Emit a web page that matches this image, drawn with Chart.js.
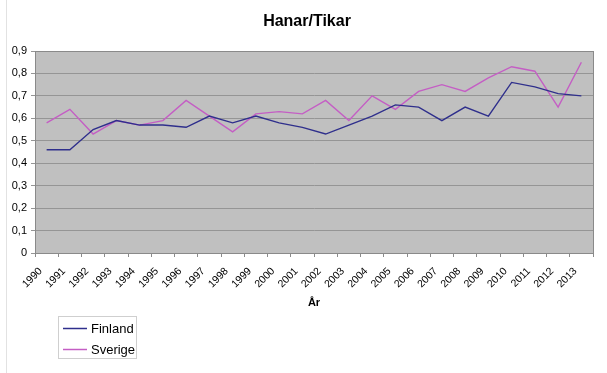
<!DOCTYPE html>
<html>
<head>
<meta charset="utf-8">
<script src="https://cdn.jsdelivr.net/npm/chart.js@4/dist/chart.umd.min.js"></script>
<style>
  html, body { margin: 0; padding: 0; background: #fff; }
  #wrap { position: relative; width: 607px; height: 373px; }
</style>
</head>
<body>
<div id="wrap"><canvas id="c" width="607" height="373"></canvas></div>
<script>
const years = ['1990','1991','1992','1993','1994','1995','1996','1997','1998','1999','2000','2001','2002','2003','2004','2005','2006','2007','2008','2009','2010','2011','2012','2013'];
const finland = [0.46,0.46,0.55,0.59,0.57,0.57,0.56,0.61,0.58,0.61,0.58,0.56,0.53,0.57,0.61,0.66,0.65,0.59,0.65,0.61,0.76,0.74,0.71,0.70];
const sverige = [0.58,0.64,0.53,0.59,0.57,0.59,0.68,0.61,0.54,0.62,0.63,0.62,0.68,0.59,0.70,0.64,0.72,0.75,0.72,0.78,0.83,0.81,0.65,0.85];
const seriesNames = ['Finland','Sverige'];
const seriesColors = ['#2f2f8c','#c45ec4'];
const chartTitle = 'Hanar/Tikar';
const xTitle = 'År';

const FONT = "'Liberation Sans', Arial, sans-serif";

const decor = {
  id: 'decor',
  beforeDraw(chart) {
    const {ctx, chartArea: a} = chart;
    ctx.save();
    ctx.fillStyle = '#ffffff';
    ctx.fillRect(0, 0, chart.width, chart.height);
    ctx.fillStyle = '#c0c0c0';
    ctx.fillRect(a.left, a.top, a.right - a.left, a.bottom - a.top);
    ctx.restore();
  },
  afterDraw(chart) {
    const {ctx, chartArea: a} = chart;
    ctx.save();
    ctx.strokeStyle = '#8a8a8a';
    ctx.lineWidth = 1;
    ctx.strokeRect(Math.round(a.left) + 0.5, Math.round(a.top) + 0.5, Math.round(a.right - a.left), Math.round(a.bottom - a.top));
    // outer frame (left edge visible in reference)
    ctx.strokeStyle = '#e2e2e2';
    ctx.beginPath();
    ctx.moveTo(6.5, 0); ctx.lineTo(6.5, chart.height);
    ctx.stroke();
    // title
    ctx.fillStyle = '#000';
    ctx.font = "bold 16px " + FONT;
    ctx.textAlign = 'center';
    ctx.textBaseline = 'middle';
    ctx.fillText(chartTitle, 307, 22);
    // legend box
    const bx = 58, by = 316, bw = 78, bh = 42;
    ctx.strokeStyle = '#cfcfcf';
    ctx.strokeRect(bx + 0.5, by + 0.5, bw, bh);
    ctx.font = "13px " + FONT;
    ctx.textAlign = 'left';
    chart.data.datasets.forEach((ds, i) => {
      const y = by + 12 + i * 21;
      ctx.strokeStyle = ds.borderColor;
      ctx.lineWidth = 1.5;
      ctx.beginPath();
      ctx.moveTo(bx + 5, y + 0.5);
      ctx.lineTo(bx + 29, y + 0.5);
      ctx.stroke();
      ctx.fillStyle = '#000';
      ctx.fillText(ds.label, bx + 33, y + 1);
    });
    ctx.restore();
  }
};

new Chart(document.getElementById('c'), {
  type: 'line',
  data: {
    labels: years,
    datasets: [
      { label: seriesNames[0], data: finland, borderColor: seriesColors[0], backgroundColor: seriesColors[0], borderWidth: 1.4, pointRadius: 0, tension: 0, fill: false },
      { label: seriesNames[1], data: sverige, borderColor: seriesColors[1], backgroundColor: seriesColors[1], borderWidth: 1.4, pointRadius: 0, tension: 0, fill: false }
    ]
  },
  options: {
    responsive: false,
    animation: false,
    devicePixelRatio: 1,
    layout: { padding: { left: 0, right: 14, top: 51, bottom: 55 } },
    plugins: {
      legend: { display: false },
      tooltip: { enabled: false },
      title: { display: false }
    },
    scales: {
      x: {
        type: 'category',
        offset: true,
        grid: { offset: true, drawOnChartArea: false, drawTicks: true, tickLength: 4, color: '#8a8a8a' },
        border: { color: '#8a8a8a' },
        ticks: { minRotation: 45, maxRotation: 45, autoSkip: false, color: '#000', padding: 8, labelOffset: -6, font: { family: FONT, size: 10.5 } },
        title: { display: true, text: xTitle, color: '#000', font: { family: FONT, size: 11, weight: 'bold' }, padding: { top: 4, bottom: 8.5 } },
        afterFit(s) { s.height = 65; }
      },
      y: {
        min: 0,
        max: 0.9,
        grid: { color: '#959595', tickLength: 4, drawTicks: true },
        border: { color: '#8a8a8a' },
        ticks: {
          stepSize: 0.1,
          color: '#000',
          padding: 4,
          font: { family: FONT, size: 11 },
          callback: (v) => (Math.round(v * 10) / 10).toString().replace('.', ',')
        },
        afterFit(s) { s.width = 35; }
      }
    }
  },
  plugins: [decor]
});
</script>
</body>
</html>
